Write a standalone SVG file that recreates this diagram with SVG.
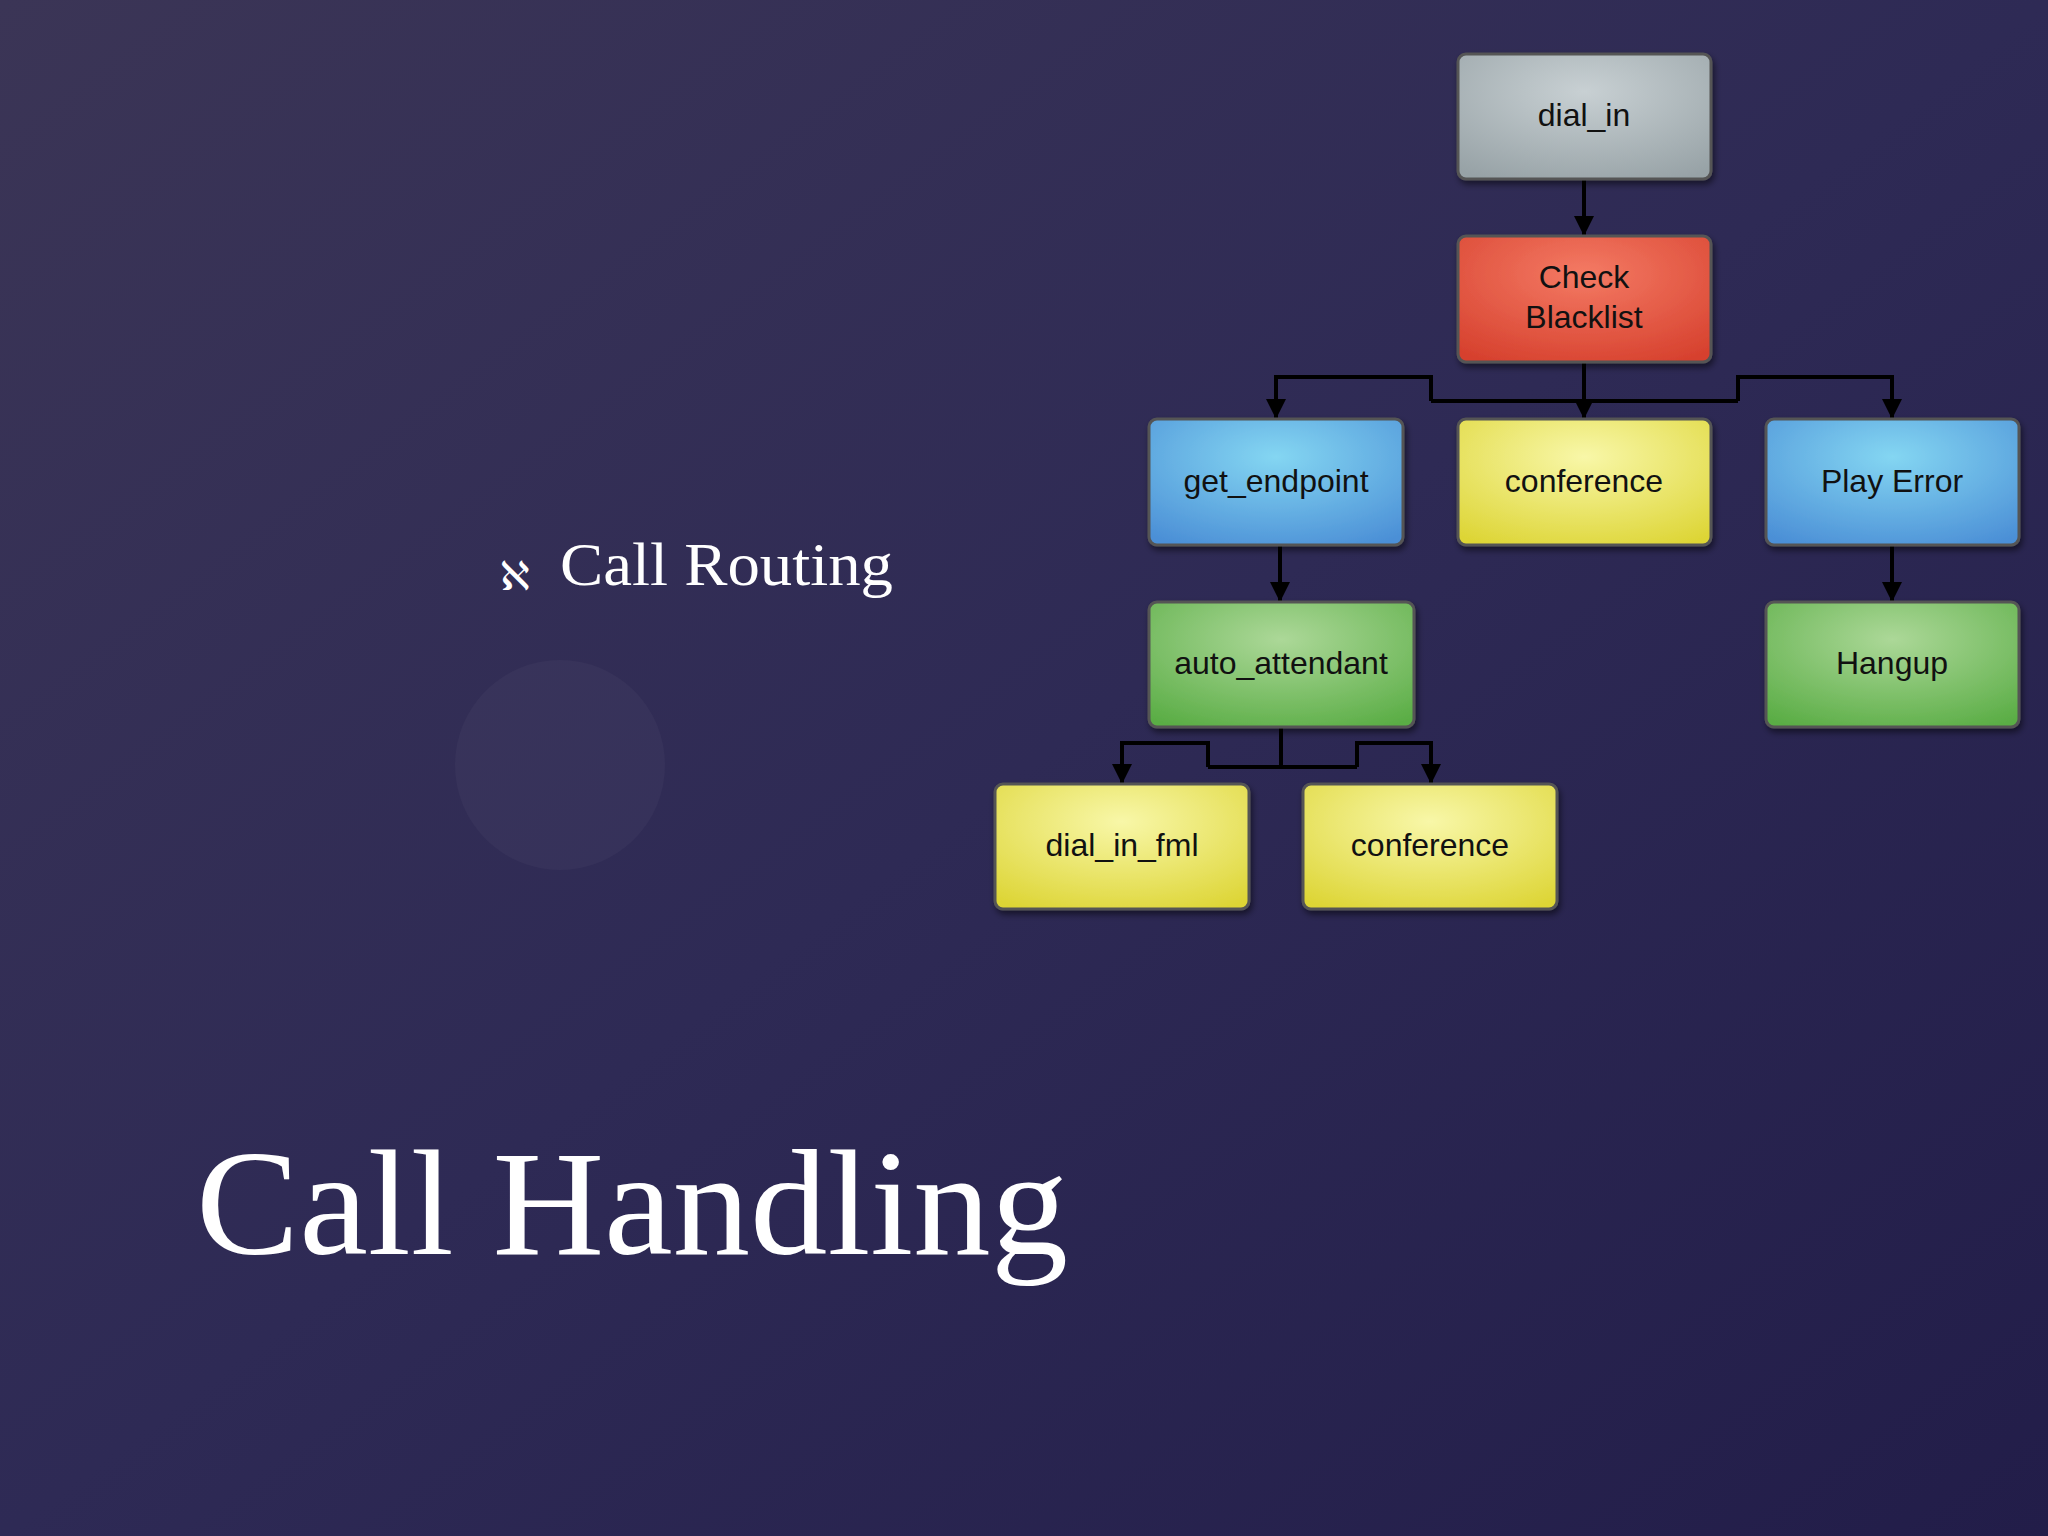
<svg xmlns="http://www.w3.org/2000/svg" width="2048" height="1536" viewBox="0 0 2048 1536">
<defs>
<linearGradient id="bg" x1="0" y1="0" x2="1" y2="1"><stop offset="0" stop-color="#3b3556"/><stop offset="0.5" stop-color="#2e2a55"/><stop offset="1" stop-color="#221d49"/></linearGradient>
<radialGradient id="gGray" cx="0.5" cy="0.3" r="0.8"><stop offset="0" stop-color="#c8d0d3"/><stop offset="1" stop-color="#97a2a6"/></radialGradient>
<radialGradient id="gRed" cx="0.5" cy="0.3" r="0.8"><stop offset="0" stop-color="#f47a64"/><stop offset="1" stop-color="#d6402d"/></radialGradient>
<radialGradient id="gBlue" cx="0.5" cy="0.3" r="0.8"><stop offset="0" stop-color="#84d6f2"/><stop offset="1" stop-color="#4b8fd6"/></radialGradient>
<radialGradient id="gYel" cx="0.5" cy="0.3" r="0.8"><stop offset="0" stop-color="#f8f7a8"/><stop offset="1" stop-color="#ddd535"/></radialGradient>
<radialGradient id="gGrn" cx="0.5" cy="0.3" r="0.8"><stop offset="0" stop-color="#acd898"/><stop offset="1" stop-color="#5aad45"/></radialGradient>
<marker id="ar" viewBox="0 0 10 10" refX="10" refY="5" markerWidth="26" markerHeight="20" markerUnits="userSpaceOnUse" orient="auto"><path d="M0,0 L10,5 L0,10 z" fill="#000"/></marker>
<filter id="sh" x="-10%" y="-10%" width="130%" height="130%"><feDropShadow dx="2" dy="4" stdDeviation="3" flood-color="#000" flood-opacity="0.5"/></filter>
</defs>
<style>
.n{stroke:#555;stroke-width:3;filter:url(#sh)}
.t{font-family:"Liberation Sans",Arial,sans-serif;font-size:32px;fill:#111;text-anchor:middle}
.c{fill:none;stroke:#000;stroke-width:4}
</style>
<rect width="2048" height="1536" fill="url(#bg)"/>
<circle cx="560" cy="765" r="105" fill="#ffffff" opacity="0.03"/>
<text x="196" y="1254" font-family="Liberation Serif,'Times New Roman',serif" font-size="150" fill="#fff" textLength="872" lengthAdjust="spacingAndGlyphs">Call Handling</text>
<text x="500" y="590" font-family="DejaVu Sans,sans-serif" font-size="40" fill="#fff">ℵ</text>
<text x="560" y="585" font-family="Liberation Serif,'Times New Roman',serif" font-size="62" fill="#fff" textLength="333" lengthAdjust="spacingAndGlyphs">Call Routing</text>
<g id="connectors">
<path class="c" d="M1584,179 V236" marker-end="url(#ar)"/>
<path class="c" d="M1584,362 V419" marker-end="url(#ar)"/>
<path class="c" d="M1431,401 H1738"/>
<path class="c" d="M1431,401 V377 H1276 V419" marker-end="url(#ar)"/>
<path class="c" d="M1738,401 V377 H1892 V419" marker-end="url(#ar)"/>
<path class="c" d="M1280,545 V602" marker-end="url(#ar)"/>
<path class="c" d="M1892,545 V602" marker-end="url(#ar)"/>
<path class="c" d="M1281,727 V767 M1208,767 H1357"/>
<path class="c" d="M1208,767 V743 H1122 V784" marker-end="url(#ar)"/>
<path class="c" d="M1357,767 V743 H1431 V784" marker-end="url(#ar)"/>
</g>
<g id="dial_in"><rect class="n" x="1458" y="54" width="253" height="125" rx="8" fill="url(#gGray)"/><text class="t" x="1584" y="126">dial_in</text></g>
<g id="check_blacklist"><rect class="n" x="1458" y="236" width="253" height="126" rx="8" fill="url(#gRed)"/><text class="t" x="1584" y="288">Check</text><text class="t" x="1584" y="328">Blacklist</text></g>
<g id="get_endpoint"><rect class="n" x="1149" y="419" width="254" height="126" rx="8" fill="url(#gBlue)"/><text class="t" x="1276" y="492">get_endpoint</text></g>
<g id="conference1"><rect class="n" x="1458" y="419" width="253" height="126" rx="8" fill="url(#gYel)"/><text class="t" x="1584" y="492">conference</text></g>
<g id="play_error"><rect class="n" x="1766" y="419" width="253" height="126" rx="8" fill="url(#gBlue)"/><text class="t" x="1892" y="492">Play Error</text></g>
<g id="auto_attendant"><rect class="n" x="1149" y="602" width="265" height="125" rx="8" fill="url(#gGrn)"/><text class="t" x="1281" y="674">auto_attendant</text></g>
<g id="hangup"><rect class="n" x="1766" y="602" width="253" height="125" rx="8" fill="url(#gGrn)"/><text class="t" x="1892" y="674">Hangup</text></g>
<g id="dial_in_fml"><rect class="n" x="995" y="784" width="254" height="125" rx="8" fill="url(#gYel)"/><text class="t" x="1122" y="856">dial_in_fml</text></g>
<g id="conference2"><rect class="n" x="1303" y="784" width="254" height="125" rx="8" fill="url(#gYel)"/><text class="t" x="1430" y="856">conference</text></g>
</svg>
